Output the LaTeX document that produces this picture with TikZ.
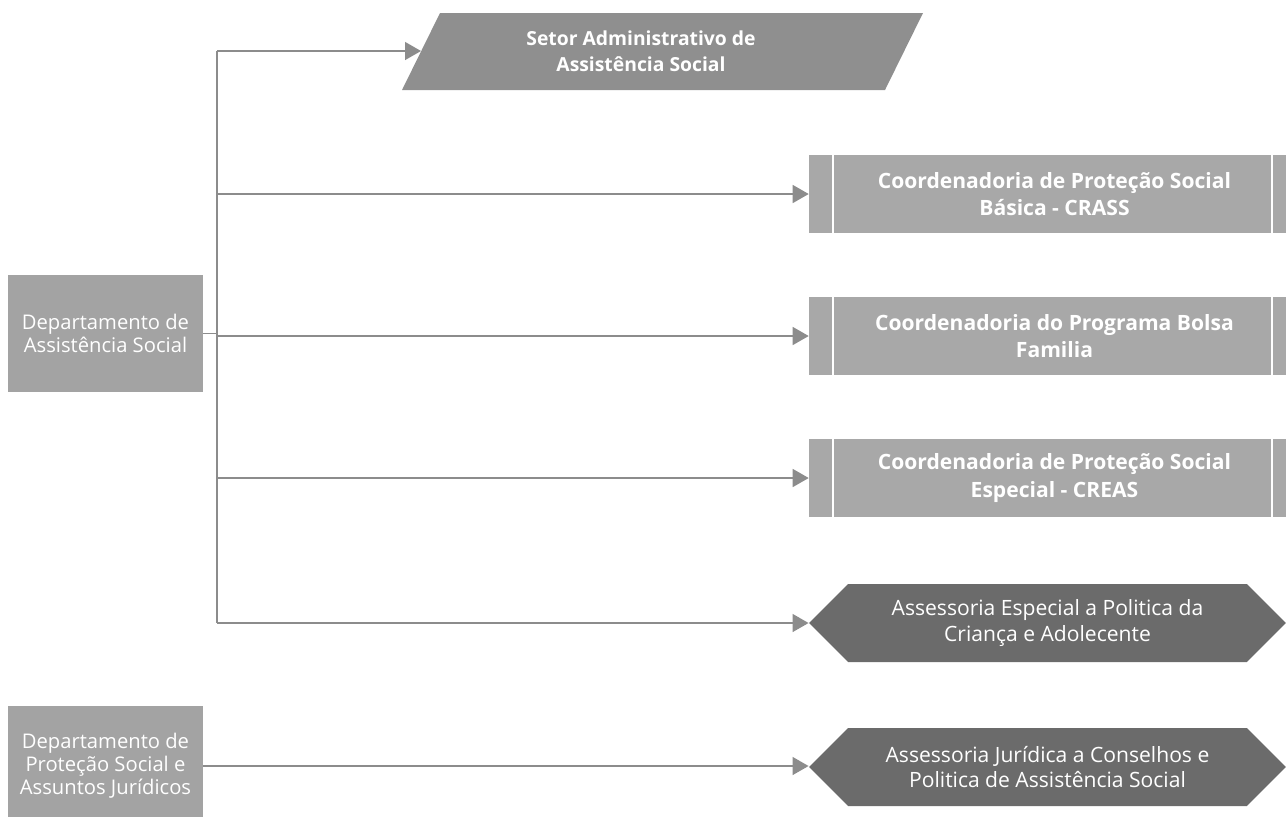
\documentclass[tikz,border=0pt]{standalone}
\usepackage{fontspec}
\setmainfont{Open Sans}
\usepackage{tikz}
\usetikzlibrary{calc}
\usetikzlibrary{arrows.meta}
\usetikzlibrary{shapes.symbols}
\usetikzlibrary{positioning}

\definecolor{deptgray}{HTML}{A3A3A3}
\definecolor{paragray}{HTML}{8F8F8F}
\definecolor{coordgray}{HTML}{A8A8A8}
\definecolor{hexgray}{HTML}{6B6B6B}
\definecolor{linegray}{HTML}{8C8C8C}

\begin{document}
\begin{tikzpicture}[x=0.02cm,y=-0.02cm,
  dept/.style={fill=deptgray,text=white,align=center,minimum width=3.9cm,inner sep=0pt,font=\fontsize{11.5}{13}\selectfont},
  coord/.style={fill=coordgray,text=white,align=center,minimum width=9.82cm,minimum height=1.56cm,inner sep=0pt,font=\bfseries\fontsize{12}{15.5}\selectfont,
    path picture={
      \draw[white,line width=0.8pt] ([xshift=0.48cm]path picture bounding box.north west) -- ([xshift=0.48cm]path picture bounding box.south west);
      \draw[white,line width=0.8pt] ([xshift=-0.56cm]path picture bounding box.north east) -- ([xshift=-0.56cm]path picture bounding box.south east);
    }},
  hexa/.style={signal,signal to=west and east,fill=hexgray,text=white,align=center,minimum width=9.54cm,minimum height=1.56cm,inner sep=0pt,font=\fontsize{12}{14.5}\selectfont},
  link/.style={draw=linegray,line width=0.8pt},
  flow/.style={link,-{Triangle[length=0.32cm,width=0.36cm]}},
]
\useasboundingbox (0,0) rectangle (1286,816);

% departamentos
\node[dept,minimum height=2.34cm] (dep social) at (105.5,333.5) {Departamento de\\Assistência Social};
\node[dept,minimum height=2.4cm] (dep juridico) at (105.5,766) {Departamento de\\Proteção Social e\\Assuntos Jurídicos};

% setor (paralelogramo)
\fill[paragray] (440,13) -- (923,13) -- (885,90) -- (402,90) -- cycle;
\node[text=white,align=center,font=\bfseries\fontsize{11}{15}\selectfont] (setor) at (641,51) {Setor Administrativo de\\Assistência Social};
\coordinate (setor in) at (421,51);

% coordenadorias
\node[coord] (crass) at (1054.5,194) {Coordenadoria de Proteção Social\\Básica - CRASS};
\node[coord] (bolsa) at (1054.5,336) {Coordenadoria do Programa Bolsa\\Familia};
\node[coord] (creas) at (1054.5,478) {Coordenadoria de Proteção Social\\Especial - CREAS};

% assessorias
\node[hexa] (ass crianca) at (1047.5,623) {Assessoria Especial a Politica da\\Criança e Adolecente};
\node[hexa] (ass juridica) at (1047.5,767) {Assessoria Jurídica a Conselhos e\\Politica de Assistência Social};

\coordinate (bus) at (217,0);
\draw[link] (dep social.east) -- (dep social.east -| bus);
\draw[link] (bus |- setor in) -- (bus |- ass crianca.west);
\draw[flow] (bus |- setor in) -- (setor in);
\draw[flow] (bus |- crass.west) -- (crass.west);
\draw[flow] (bus |- bolsa.west) -- (bolsa.west);
\draw[flow] (bus |- creas.west) -- (creas.west);
\draw[flow] (bus |- ass crianca.west) -- (ass crianca.west);

\draw[flow] (dep juridico.east) -- (dep juridico.east -| ass juridica.west);
\end{tikzpicture}
\end{document}
